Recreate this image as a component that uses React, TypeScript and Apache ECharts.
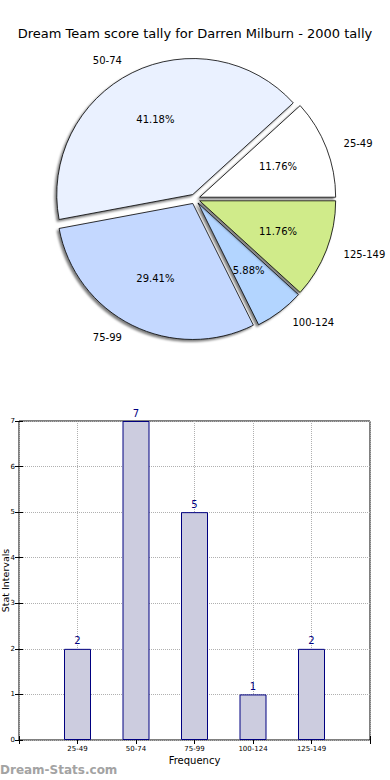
import React, { useEffect, useRef } from "react";
import * as echarts from "echarts";

const titleText = "Dream Team score tally for Darren Milburn - 2000 tally";
const categories = ["25-49", "50-74", "75-99", "100-124", "125-149"];
const counts = [2, 7, 5, 1, 2];
const sliceColors = ["#ffffff", "#eaf1ff", "#c4d8ff", "#b3d5ff", "#d0eb8a"];
const yTicks = [0, 1, 2, 3, 4, 5, 6, 7];
const FONT = "DejaVu Sans";

export default function App() {
  const ref = useRef<HTMLDivElement>(null);
  useEffect(() => {
    if (!ref.current) return;
    const chart = echarts.init(ref.current, null, { renderer: "svg" });
    const total = counts.reduce((a, b) => a + b, 0);
    const pieData = categories.map((c, i) => ({
      name: c,
      value: counts[i],
      selected: true,
      itemStyle: { color: sliceColors[i] },
    }));
    const labelData = categories.map((c, i) => ({ name: c, value: counts[i] }));
    const barData = categories.map((c, i) => [i + 1, counts[i]]);

    chart.setOption({
      animation: false,
      textStyle: { fontFamily: FONT },
      title: {
        text: titleText,
        left: "center",
        top: 22,
        textStyle: { fontFamily: FONT, fontSize: 13, fontWeight: "normal", color: "#000" },
      },
      graphic: [
        {
          type: "text",
          left: 0,
          top: 764,
          style: {
            text: "Dream-Stats.com",
            fontFamily: FONT,
            fontSize: 12,
            fontWeight: "bold",
            fill: "#a3a3a3",
          },
        },
      ],
      grid: {
        left: 19,
        right: 20,
        top: 421,
        bottom: 40,
        outerBoundsMode: "none",
        containLabel: false,
        show: true,
        borderColor: "#000",
        borderWidth: 1,
        backgroundColor: "transparent",
      },
      xAxis: [
        {
          type: "value",
          min: 0,
          max: 6,
          interval: 1,
          name: "Frequency",
          nameLocation: "middle",
          nameGap: 15,
          nameMoveOverlap: false,
          nameTextStyle: { fontFamily: FONT, fontSize: 10, color: "#000" },
          axisLine: { show: false },
          axisTick: { show: true, inside: true, length: 4, lineStyle: { color: "#000" } },
          axisLabel: {
            fontFamily: FONT,
            fontSize: 7,
            color: "#000",
            margin: 5,
            formatter: (v: number) => (v >= 1 && v <= categories.length ? categories[v - 1] : ""),
          },
          splitLine: { show: true, lineStyle: { color: "#b0b0b0", type: "dotted", width: 1 } },
        },
        {
          type: "value",
          position: "top",
          min: 0,
          max: 6,
          interval: 1,
          axisLine: { show: false },
          axisTick: { show: true, inside: true, length: 4, lineStyle: { color: "#000" } },
          axisLabel: { show: false },
          splitLine: { show: false },
        },
      ],
      yAxis: [
        {
          type: "value",
          min: yTicks[0],
          max: yTicks[yTicks.length - 1],
          interval: 1,
          name: "Stat Intervals",
          nameLocation: "middle",
          nameGap: 9,
          nameMoveOverlap: false,
          nameTextStyle: { fontFamily: FONT, fontSize: 9.5, color: "#000" },
          axisLine: { show: false },
          axisTick: { show: true, inside: true, length: 4, lineStyle: { color: "#000" } },
          axisLabel: { fontFamily: FONT, fontSize: 7, color: "#000", margin: 4 },
          splitLine: { show: true, lineStyle: { color: "#b0b0b0", type: "dotted", width: 1 } },
        },
        {
          type: "value",
          position: "right",
          min: yTicks[0],
          max: yTicks[yTicks.length - 1],
          interval: 1,
          axisLine: { show: false },
          axisTick: { show: true, inside: true, length: 4, lineStyle: { color: "#000" } },
          axisLabel: { show: false },
          splitLine: { show: false },
        },
      ],
      series: [
        {
          type: "pie",
          center: [195, 199],
          radius: [0, 136],
          startAngle: 0,
          clockwise: false,
          selectedMode: "multiple",
          selectedOffset: 5,
          avoidLabelOverlap: false,
          silent: true,
          data: pieData,
          itemStyle: {
            borderColor: "#000",
            borderWidth: 0.8,
            shadowBlur: 2,
            shadowOffsetX: -2,
            shadowOffsetY: 2,
            shadowColor: "rgba(0,0,0,0.5)",
          },
          label: {
            show: true,
            position: "outside",
            alignTo: "none",
            distanceToLabelLine: 4,
            fontFamily: FONT,
            fontSize: 10,
            color: "#000",
            formatter: "{b}",
          },
          labelLine: { show: false, length: 14, length2: 0 },
          emphasis: { disabled: true },
        },
        {
          type: "pie",
          center: [195, 199],
          radius: [0, 172],
          startAngle: 0,
          clockwise: false,
          silent: true,
          avoidLabelOverlap: false,
          data: labelData,
          itemStyle: { color: "transparent", borderWidth: 0 },
          label: {
            show: true,
            position: "inside",
            fontFamily: FONT,
            fontSize: 10,
            color: "#000",
            formatter: (p: any) => ((p.value / total) * 100).toFixed(2) + "%",
          },
          labelLine: { show: false },
          emphasis: { disabled: true },
        },
        {
          type: "bar",
          xAxisIndex: 0,
          yAxisIndex: 0,
          data: barData,
          barWidth: 27,
          itemStyle: { color: "#ccccdf", borderColor: "#000080", borderWidth: 1 },
          label: {
            show: true,
            position: "top",
            distance: 3,
            fontFamily: FONT,
            fontSize: 10,
            color: "#000080",
            formatter: (p: any) => String(p.value[1]),
          },
          emphasis: { disabled: true },
        },
      ],
    });
    return () => chart.dispose();
  }, []);
  return (
    <div
      ref={ref}
      style={{ position: "fixed", left: 0, top: 0, width: 390, height: 780, background: "#fff" }}
    />
  );
}
